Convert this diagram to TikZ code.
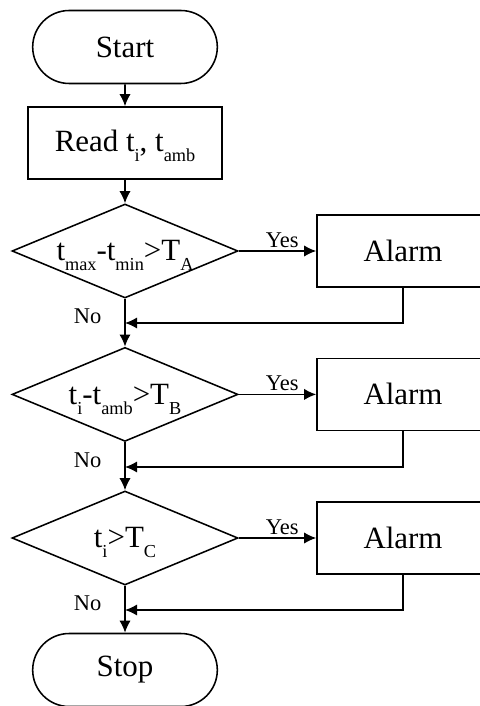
\documentclass[tikz,border=0pt]{standalone}
\usepackage{fontspec}
\setmainfont{Liberation Serif}
\usepackage{tikz}
\usetikzlibrary{arrows.meta,positioning,shapes.geometric,shapes.misc}
\tikzset{every picture/.style={line width=1.1pt}}
\tikzstyle{term}=[rounded rectangle,draw,minimum width=4.85cm,minimum height=1.825cm,font=\fontsize{22}{26}\selectfont]
\tikzstyle{proc}=[rectangle,draw,minimum width=4.85cm,minimum height=1.8cm,font=\fontsize{22}{26}\selectfont]
\tikzstyle{dec}=[diamond,draw,aspect=2.4,inner sep=0pt,minimum width=5.65cm,minimum height=2.35cm,font=\fontsize{22}{26}\selectfont]
\tikzstyle{alarm}=[rectangle,draw,minimum width=4.3cm,minimum height=1.8cm,font=\fontsize{22}{26}\selectfont]
\tikzstyle{lbl}=[font=\fontsize{16}{18}\selectfont,inner sep=2pt]
\newcommand{\lo}[1]{\raisebox{-7pt}[0pt][0pt]{\fontsize{13}{13}\selectfont #1}}

\begin{document}
\begin{tikzpicture}[>={Latex[length=3mm,width=2.8mm]}]
\useasboundingbox (0,0) rectangle (11.975,-17.65);
\node[term] (start) at (3.125,-1.175) {Start};
\node[proc] (read) at (3.125,-3.575) {Read t\lo{i}, t\lo{amb}};
\node[dec] (d1) at (3.125,-6.275) {t\lo{max}-t\lo{min}>T\lo{A}};
\node[dec] (d2) at (3.125,-9.86) {t\lo{i}-t\lo{amb}>T\lo{B}};
\node[dec] (d3) at (3.125,-13.45) {t\lo{i}>T\lo{C}};
\node[term] (stop) at (3.125,-16.75) {Stop};
\node[alarm] (al1) at (10.075,-6.275) {Alarm};
\node[alarm] (al2) at (10.075,-9.86) {Alarm};
\node[alarm] (al3) at (10.075,-13.45) {Alarm};
\coordinate (j1) at (3.125,-8.075);
\coordinate (j2) at (3.125,-11.675);
\coordinate (j3) at (3.125,-15.25);
\path[->]
(start) edge (read)
(read) edge (d1)
(d1) edge node[lbl,pos=0.56,above]{Yes} (al1)
(d2) edge node[lbl,pos=0.56,above]{Yes} (al2)
(d3) edge node[lbl,pos=0.56,above]{Yes} (al3)
(d1) edge node[lbl,pos=0.37,left=5mm]{No} (d2)
(d2) edge node[lbl,pos=0.37,left=5mm]{No} (d3)
(d3) edge node[lbl,pos=0.37,left=5mm]{No} (stop);
\draw[->] (al1) |- (j1);
\draw[->] (al2) |- (j2);
\draw[->] (al3) |- (j3);
\end{tikzpicture}
\end{document}
